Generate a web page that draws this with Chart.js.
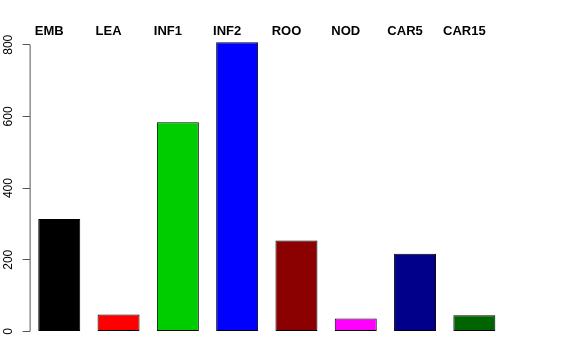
<!DOCTYPE html>
<html>
<head>
<meta charset="utf-8">
<script src="https://cdn.jsdelivr.net/npm/chart.js@4"></script>
<style>
  html, body { margin: 0; padding: 0; background: #fff; }
  #c { display: block; }
</style>
</head>
<body>
<canvas id="c" width="576" height="360"></canvas>
<script>
const categories = ["EMB", "LEA", "INF1", "INF2", "ROO", "NOD", "CAR5", "CAR15"];
const values = [314, 47, 584, 807, 254, 36, 217, 45];
const barColors = ["#000000", "#FF0000", "#00CD00", "#0000FF", "#8B0000", "#FF00FF", "#00008B", "#006400"];
const yTicks = [0, 200, 400, 600, 800];
const yMin = -32.3;
const yMax = 839.3;

const rAxisPlugin = {
  id: 'rAxis',
  afterDraw(chart) {
    const ctx = chart.ctx;
    const y = chart.scales.y;
    const x = chart.scales.x;
    const x0 = chart.chartArea.left;
    ctx.save();
    ctx.strokeStyle = '#555555';
    ctx.lineWidth = 1;
    ctx.beginPath();
    ctx.moveTo(x0 + 0.5, y.getPixelForValue(yTicks[0]));
    ctx.lineTo(x0 + 0.5, y.getPixelForValue(yTicks[yTicks.length - 1]));
    ctx.stroke();
    ctx.fillStyle = '#000';
    ctx.font = '12px "Liberation Sans", Arial, sans-serif';
    ctx.textAlign = 'center';
    ctx.textBaseline = 'middle';
    yTicks.forEach(v => {
      const py = y.getPixelForValue(v);
      ctx.save();
      ctx.translate(9, py);
      ctx.rotate(-Math.PI / 2);
      ctx.fillText(String(v), 0, 0);
      ctx.restore();
    });
    // category labels above the bars (R mtext style)
    ctx.font = 'bold 13px "Liberation Sans", Arial, sans-serif';
    ctx.textAlign = 'center';
    ctx.textBaseline = 'alphabetic';
    x.ticks.forEach((t, i) => {
      ctx.fillText(categories[i], x.getPixelForTick(i) - 10, 34.5);
    });
    ctx.restore();
  }
};

new Chart(document.getElementById('c'), {
  type: 'bar',
  data: {
    labels: categories,
    datasets: [{
      data: values,
      backgroundColor: barColors,
      borderColor: '#000000',
      borderWidth: 1,
      borderSkipped: false,
      categoryPercentage: 1.0,
      barPercentage: 0.708
    }]
  },
  options: {
    responsive: false,
    animation: false,
    devicePixelRatio: 1,
    layout: { padding: { left: 0, right: 72, top: 0, bottom: 17 } },
    plugins: { legend: { display: false }, tooltip: { enabled: false } },
    scales: {
      x: {
        position: 'top',
        grid: { display: false, drawTicks: false },
        border: { display: false },
        ticks: { display: false, autoSkip: false },
        afterFit(s) { s.height = 30.7; }
      },
      y: {
        min: yMin,
        max: yMax,
        afterBuildTicks(s) { s.ticks = yTicks.map(v => ({ value: v })); },
        afterFit(s) { s.width = 29.6; },
        grid: { display: true, drawOnChartArea: false, drawTicks: true, tickLength: 7, color: '#555555' },
        border: { display: false },
        ticks: { display: false }
      }
    }
  },
  plugins: [rAxisPlugin]
});
</script>
</body>
</html>
